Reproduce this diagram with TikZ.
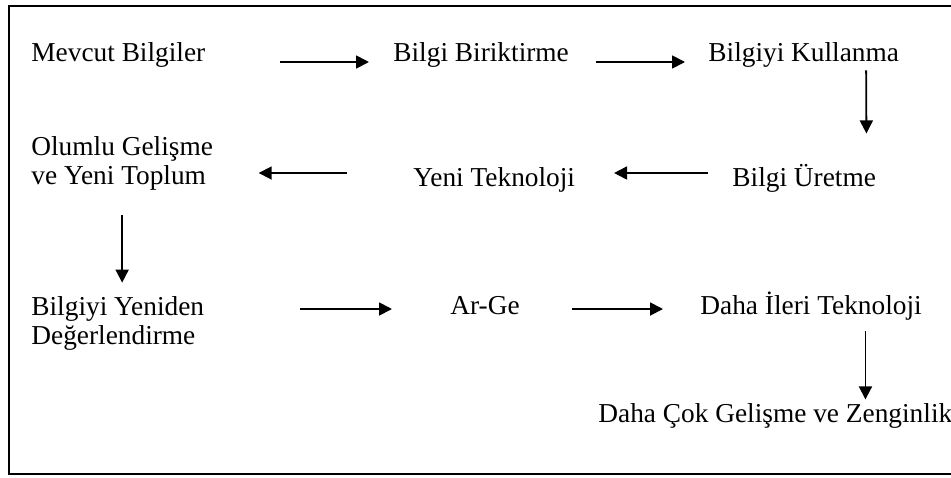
\documentclass[tikz,border=0pt]{standalone}
\usepackage{fontspec}
\setmainfont{Liberation Serif}
\usetikzlibrary{arrows.meta}

\begin{document}
\begin{tikzpicture}[
    x=0.5pt, y=-0.5pt,
    txt/.style={inner sep=0pt, anchor=base west, align=left, font=\fontsize{13.67}{14.5}\selectfont},
    arrow/.style={-{Triangle[length=6.5pt,width=6.5pt]}, line width=0.9pt}
]
    \useasboundingbox (0,0) rectangle (951,477);
    % frame, open on the right
    \draw[line width=1pt] (960,6) -| (9,474) -- (960,474);

    \node[txt] (mevcut) at (31,61) {Mevcut Bilgiler};
    \node[txt] (biriktirme) at (393,61) {Bilgi Biriktirme};
    \node[txt] (kullanma) at (708,61) {Bilgiyi Kullanma};
    \node[txt] (olumlu) at (31,184) {Olumlu Gelişme\\ve Yeni Toplum};
    \node[txt] (yeni) at (413,186) {Yeni Teknoloji};
    \node[txt] (uretme) at (732,186) {Bilgi Üretme};
    \node[txt] (yeniden) at (31,344) {Bilgiyi Yeniden\\Değerlendirme};
    \node[txt] (arge) at (450,314) {Ar-Ge};
    \node[txt] (ileri) at (700,314) {Daha İleri Teknoloji};
    \node[txt] (cok) at (598,422) {Daha Çok Gelişme ve Zenginlik};

    \draw[arrow, shorten <=37pt, shorten >=12pt] ([yshift=-0.5pt]mevcut.base east) -- ([yshift=-0.5pt]biriktirme.base west);
    \draw[arrow, shorten <=13.5pt, shorten >=11.5pt] ([yshift=-0.5pt]biriktirme.base east) -- ([yshift=-0.5pt]kullanma.base west);
    \draw[arrow, shorten <=1.5pt, shorten >=15pt] ([xshift=31.2pt]kullanma.south) -- ([xshift=31.2pt]uretme.north);
    \draw[arrow, shorten <=12pt, shorten >=19.3pt] ([yshift=6.5pt]uretme.base west) -- ([yshift=6.5pt]yeni.base east);
    \draw[arrow, shorten <=33pt, shorten >=22.7pt] ([yshift=6.5pt]yeni.base west) -- ([yshift=6.5pt]yeni.base west -| olumlu.east);
    \draw[arrow, shorten <=12.5pt, shorten >=6.5pt] (olumlu.south) -- (olumlu.south |- yeniden.north);
    \draw[arrow, shorten <=47.7pt, shorten >=29pt] ([yshift=2.5pt]arge.base west -| yeniden.east) -- ([yshift=2.5pt]arge.base west);
    \draw[arrow, shorten <=26pt, shorten >=18.5pt] ([yshift=2.5pt]arge.base east) -- ([yshift=2.5pt]ileri.base west);
    \draw[arrow, shorten <=5.5pt, shorten >=1.6pt] ([xshift=27.2pt]ileri.south) -- ([xshift=27.2pt]ileri.south |- cok.north);
\end{tikzpicture}
\end{document}
